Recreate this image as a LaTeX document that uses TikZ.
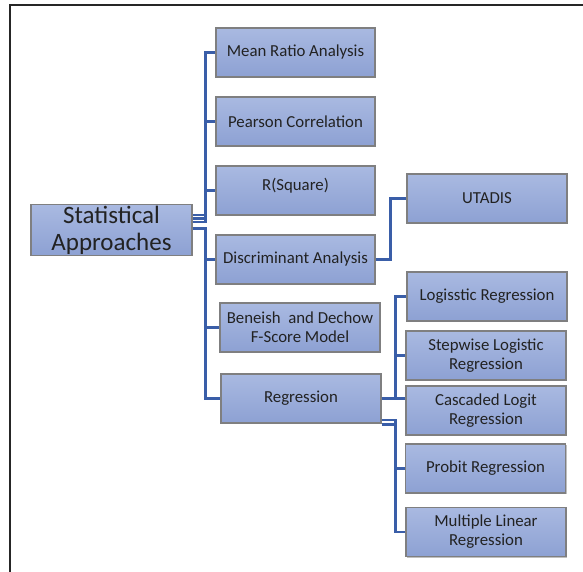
\documentclass[tikz,border=0pt]{standalone}
\usepackage{fontspec}
\setmainfont{Carlito}
\usetikzlibrary{shadows}
\definecolor{boxtop}{HTML}{A9B9E1}
\definecolor{boxbot}{HTML}{8DA1D3}
\definecolor{boxedge}{HTML}{7F7F80}
\definecolor{conncol}{HTML}{3A5EA8}
\definecolor{txt}{HTML}{222222}
\tikzset{
  box/.style={draw=boxedge, line width=1.2pt, top color=boxtop, bottom color=boxbot,
    minimum width=160pt, minimum height=49pt, inner sep=1pt, align=center,
    text=txt, font=\fontsize{16.8}{19}\selectfont,
    drop shadow={shadow xshift=1.2pt, shadow yshift=-1.2pt, opacity=0.25, fill=black}},
  bigbox/.style={box, minimum width=161pt, minimum height=50pt, font=\fontsize{25}{27}\selectfont},
  conn/.style={draw=conncol, line width=2.4pt},
  frame/.style={draw=black!85, line width=1.4pt}
}
\begin{document}
\begin{tikzpicture}[x=1pt,y=-1pt]
\useasboundingbox (0,0) rectangle (583,571);
\draw[frame] (10,575) -- (10,5) -- (590,5);
% nodes
\node[bigbox] (SA) at (111.5,230) {Statistical\\Approaches};
\node[box, minimum width=159pt] (MRA) at (295.5,52.5) {Mean Ratio Analysis};
\node[box, minimum width=159pt] (PC) at (295.5,121.5) {Pearson Correlation};
\node[box, minimum width=159pt] (RS) at (295.5,190.5) {R(Square)\\[-7pt]};
\node[box, minimum width=159pt] (DA) at (295.5,259.5) {Discriminant Analysis};
\node[box] (BD) at (300,327.5) {Beneish~ and Dechow\\F-Score Model};
\node[box] (REG) at (301,398.5) {Regression};
\node[box] (UT) at (487,198.5) {UTADIS};
\node[box] (LR) at (487,296.5) {Logisstic Regression};
\node[box] (SLR) at (486,355.5) {Stepwise Logistic\\Regression};
\node[box] (CLR) at (486,410.5) {Cascaded Logit\\Regression};
\node[box] (PR) at (485.5,468.5) {Probit Regression};
\node[box] (MLR) at (486,532) {Multiple Linear\\Regression};
% connectors from Statistical Approaches
\draw[conn] ([yshift=15pt]SA.east) -- ++(13,0) |- (MRA.west);
\draw[conn] ([yshift=11.5pt]SA.east) -- ++(13,0) |- (PC.west);
\draw[conn] ([yshift=8pt]SA.east) -- ++(13,0) |- (RS.west);
\draw[conn] ([yshift=1.5pt]SA.east) -- ++(13,0) |- (DA.west);
\draw[conn] ([yshift=1.5pt]SA.east) -- ++(13,0) |- (BD.west);
\draw[conn] ([yshift=1.5pt]SA.east) -- ++(13,0) |- (REG.west);
% Discriminant to UTADIS
\draw[conn] (DA.east) -- ++(15,0) |- (UT.west);
% Regression children
\draw[conn] (REG.east) -- ++(14,0) |- (LR.west);
\draw[conn] (REG.east) -- ++(14,0) |- (SLR.west);
\draw[conn] (REG.east) -- (CLR.west |- REG.east);
\draw[conn] ([yshift=-21.5pt]REG.east) -- ++(14,0) |- (PR.west);
\draw[conn] ([yshift=-26pt]REG.east) -- ++(14,0) |- (MLR.west);
\end{tikzpicture}
\end{document}
